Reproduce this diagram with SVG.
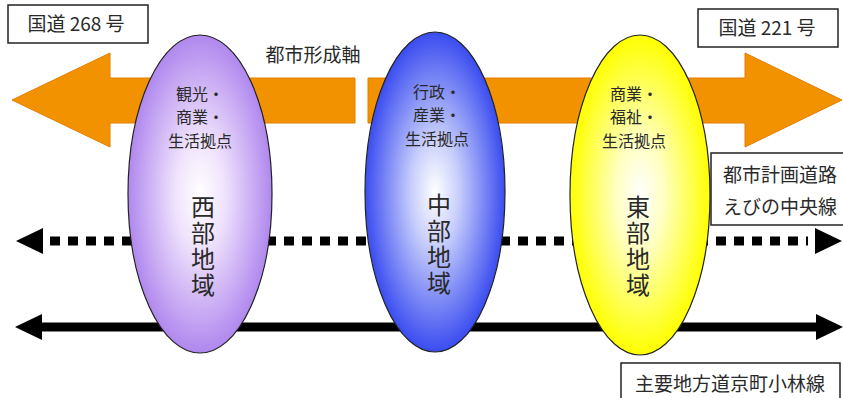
<svg xmlns="http://www.w3.org/2000/svg" width="843" height="398" viewBox="0 0 843 398">
<defs>
<radialGradient id="gp" cx="0.5" cy="0.5" r="0.5"><stop offset="0" stop-color="#ffffff"/><stop offset="0.35" stop-color="#efe2fc"/><stop offset="1" stop-color="#b088ee"/></radialGradient>
<radialGradient id="gb" cx="0.5" cy="0.5" r="0.5"><stop offset="0" stop-color="#ffffff"/><stop offset="0.35" stop-color="#c6cdfb"/><stop offset="1" stop-color="#3a4cf0"/></radialGradient>
<radialGradient id="gy" cx="0.5" cy="0.5" r="0.5"><stop offset="0" stop-color="#ffffff"/><stop offset="0.35" stop-color="#ffffc0"/><stop offset="1" stop-color="#ffff00"/></radialGradient>
</defs>
<style>
text{font-family:"Noto Sans CJK JP","Noto Sans CJK SC",sans-serif;fill:#2a2a2a;}
.box{fill:#fff;stroke:#222;stroke-width:1.5;}
.lbl{font-size:19px;text-anchor:middle;}
.in{font-size:16px;text-anchor:middle;}
.big{font-size:24px;writing-mode:vertical-rl;letter-spacing:2px;}
.ell{stroke:#222;stroke-width:1.2;}
.orange{fill:#f39200;stroke:#e07f00;stroke-width:1;}
</style>
<g id="connectors">
<polygon id="axis-left" class="orange" points="12,100 110,53 110,78 355,78 355,123 110,123 110,147"/>
<polygon id="axis-right" class="orange" points="368,78 745,78 745,53 842,100 745,147 745,123 368,123"/>
<line id="ebino-dash" x1="50" y1="241" x2="808" y2="241" stroke="#000" stroke-width="9" stroke-dasharray="10 8"/>
<polygon points="16,241 43,228 43,254" fill="#000"/>
<polygon points="842,241 815,228 815,254" fill="#000"/>
<line id="kyomachi" x1="40" y1="327" x2="818" y2="327" stroke="#000" stroke-width="9"/>
<polygon points="15,327 42,314 42,340" fill="#000"/>
<polygon points="843,327 816,314 816,340" fill="#000"/>
</g>
<g id="west">
<ellipse class="ell" cx="200" cy="194" rx="72" ry="159" fill="url(#gp)"/>
<text class="in" x="200" y="100">観光・<tspan x="200" dy="23.4">商業・</tspan><tspan x="200" dy="23.4">生活拠点</tspan></text>
<text class="big" x="203" y="195">西部地域</text>
</g>
<g id="central">
<ellipse class="ell" cx="435" cy="192" rx="70" ry="160" fill="url(#gb)"/>
<text class="in" x="437" y="98">行政・<tspan x="437" dy="23.4">産業・</tspan><tspan x="437" dy="23.4">生活拠点</tspan></text>
<text class="big" x="439" y="193">中部地域</text>
</g>
<g id="east">
<ellipse class="ell" cx="640" cy="195" rx="70" ry="160" fill="url(#gy)"/>
<text class="in" x="634" y="100">商業・<tspan x="634" dy="23.4">福祉・</tspan><tspan x="634" dy="23.4">生活拠点</tspan></text>
<text class="big" x="638" y="195">東部地域</text>
</g>
<g id="label-axis">
<text x="313" y="62" style="font-size:19px;text-anchor:middle">都市形成軸</text>
</g>
<g id="label-r268">
<rect class="box" x="8" y="5" width="140" height="38"/>
<text class="lbl" x="76" y="31">国道 268 号</text>
</g>
<g id="label-r221">
<rect class="box" x="698" y="9" width="140" height="38"/>
<text class="lbl" x="767" y="35">国道 221 号</text>
</g>
<g id="label-ebino">
<rect class="box" x="711" y="153" width="140" height="72"/>
<text class="lbl" x="780" y="182">都市計画道路<tspan x="780" dy="32">えびの中央線</tspan></text>
</g>
<g id="label-kyomachi">
<rect class="box" x="621" y="363" width="219" height="45"/>
<text class="lbl" x="730" y="391">主要地方道京町小林線</text>
</g>
</svg>
